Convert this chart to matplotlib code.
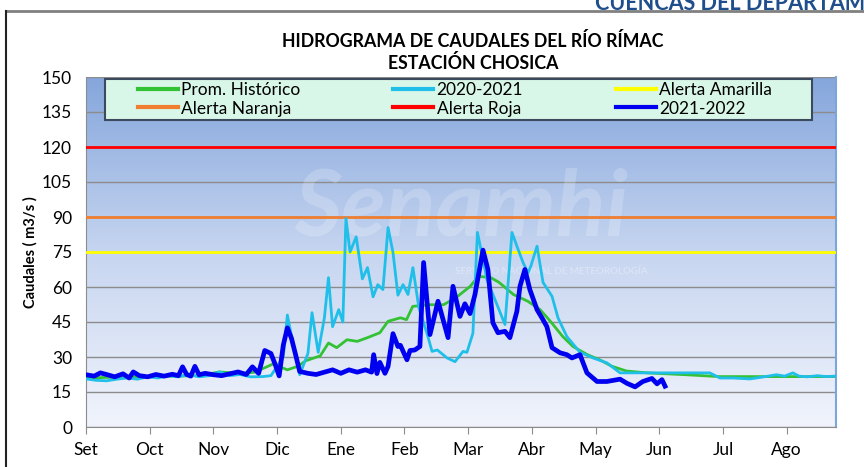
import numpy as np
import matplotlib
matplotlib.use('Agg')
import matplotlib.pyplot as plt
from matplotlib.lines import Line2D
from matplotlib.patches import Rectangle

plt.rcParams['font.family'] = ['Lato', 'DejaVu Sans']

# days counted from 1 Sep, value in m3/s
months = ['Set', 'Oct', 'Nov', 'Dic', 'Ene', 'Feb', 'Mar', 'Abr', 'May', 'Jun', 'Jul', 'Ago']
month_days = [0, 31, 62, 93, 124, 155, 186, 217, 248, 279, 310, 341]

hist_d = [0, 20, 40, 55, 65, 75, 82, 88, 91, 98, 103, 107, 114, 118, 122, 127, 132, 137, 143, 147,
          153, 156, 159, 167, 174, 180, 187, 191, 197, 201, 208, 215, 221, 226, 232, 237, 244, 250,
          256, 263, 273, 292, 308, 323, 364]
hist_v = [21.0, 21.5, 21.8, 22.0, 23.6, 22.9, 23.5, 25.8, 27.0, 24.5, 26.0, 28.4, 30.5, 36.0, 34.0,
          37.4, 36.7, 38.3, 40.4, 45.3, 46.8, 46.0, 51.7, 52.4, 52.4, 55.4, 60.3, 64.6, 64.0, 62.0,
          56.8, 53.9, 50.3, 45.3, 38.8, 34.5, 31.0, 28.8, 26.0, 24.0, 23.2, 22.4, 21.6, 21.6, 21.6]

y2021_d = [0, 5, 10, 15, 20, 25, 30, 35, 40, 45, 50, 55, 60, 65, 70, 75, 80, 86, 90, 93, 96, 98,
           101, 104, 108, 110, 113, 116, 118, 120, 123, 125, 126.5, 128.5, 131.5, 134.5, 137, 139.7,
           142, 144.5, 147, 149.4, 151.8, 154.3, 156.7, 159.1, 162, 166, 168.4, 171, 175.7, 179.6,
           183.5, 185.4, 188.3, 190.5, 192.7, 195.1, 200, 203.9, 207.3, 209.7, 212.7, 215.1, 216.5,
           219.5, 222.4, 226.8, 229.7, 234, 240.4, 246.7, 253.5, 259.9, 266, 282.7, 303.6, 308.5,
           315, 323, 330, 336, 340, 344, 347, 351, 356, 360, 364.5]
y2021_v = [20.6, 20.0, 19.8, 20.5, 21.0, 20.5, 21.5, 21.0, 22.0, 21.5, 22.5, 21.5, 22.0, 23.6, 22.0,
           22.5, 21.5, 21.6, 22.0, 26.0, 30.0, 48.0, 34.5, 22.4, 31.5, 49.0, 32.0, 46.7, 64.0, 43.0,
           50.3, 45.0, 89.4, 75.0, 81.5, 63.5, 68.3, 55.8, 61.0, 58.9, 85.5, 74.8, 56.5, 61.0, 56.8,
           68.3, 51.0, 40.0, 32.4, 33.0, 29.6, 28.0, 32.4, 32.0, 40.2, 83.4, 74.0, 63.2, 52.5, 43.9,
           83.4, 77.5, 70.5, 66.0, 69.0, 77.5, 62.0, 56.0, 46.8, 38.8, 32.0, 29.6, 27.5, 23.2, 23.2,
           23.2, 23.2, 21.0, 21.0, 20.6, 21.5, 22.4, 21.8, 23.2, 21.8, 21.5, 22.0, 21.6, 21.8]

y2022_d = [0, 4, 7, 10, 14, 18, 21, 23, 26, 30, 34, 38, 42, 45, 47, 49, 51, 53, 55, 58, 62, 66, 70,
           74, 78, 81, 84, 87, 90, 92, 94, 96, 98, 100, 102, 104, 108, 112, 116, 120, 124, 128, 132,
           136, 139, 140, 141.6, 143, 145.5, 147, 149.4, 151.8, 153, 156.2, 157.7, 160, 162.5, 164.3,
           167.4, 171.3, 176.2, 178.6, 182, 184.4, 186.9, 189.3, 193.2, 195.6, 198, 200.5, 203.9,
           206.3, 209.7, 211.2, 213.6, 216, 219.5, 222.4, 224.3, 226.8, 230.7, 234, 236.5, 240.4,
           243.8, 248.7, 253.5, 259.9, 263.3, 267.2, 271, 275.4, 277.9, 280.3, 281.8]
y2022_v = [22.4, 21.8, 23.2, 22.5, 21.5, 22.8, 21.0, 23.6, 22.0, 21.5, 22.5, 21.8, 22.6, 22.0, 25.8,
           22.5, 21.8, 26.0, 22.4, 23.0, 22.4, 22.0, 22.8, 23.6, 22.5, 25.8, 23.0, 32.8, 31.5, 27.0,
           21.9, 35.0, 42.5, 38.0, 31.0, 23.8, 23.0, 22.5, 23.5, 24.5, 23.0, 24.5, 23.5, 24.5, 23.5,
           31.0, 22.9, 27.7, 23.0, 26.0, 40.0, 34.5, 35.0, 28.8, 32.8, 33.0, 34.5, 70.5, 39.6, 53.9,
           38.3, 60.3, 47.4, 52.8, 48.6, 56.8, 75.8, 67.5, 44.7, 40.4, 41.0, 38.3, 49.6, 60.3, 67.5,
           58.9, 50.3, 46.0, 43.0, 34.0, 31.8, 31.0, 29.6, 31.0, 23.2, 19.5, 19.5, 20.5, 18.7, 17.2,
           19.5, 20.8, 18.5, 20.3, 17.5]

alert_amarilla = 75
alert_naranja = 90
alert_roja = 120

fig = plt.figure(figsize=(8.64, 4.67), dpi=100)
ax = fig.add_axes([86/864, 40/467, 750/864, 350/467])

# blue gradient background of the plot area
grad = np.linspace(0, 1, 256).reshape(-1, 1)
cmap = matplotlib.colors.LinearSegmentedColormap.from_list('bg', ['#f1f4fc', '#c6d5f0', '#85a6dc'])
ax.imshow(grad, extent=(0, 365, 0, 150), origin='lower', aspect='auto', cmap=cmap, zorder=0)

# faint watermark
ax.text(0.50, 0.62, 'Senamhi', transform=ax.transAxes, fontsize=66, fontstyle='italic',
        fontweight='bold', color='white', alpha=0.2, ha='center', va='center', zorder=1)
ax.text(0.62, 0.445, 'SERVICIO NACIONAL DE METEOROLOGÍA', transform=ax.transAxes, fontsize=7,
        fontweight='bold', color='white', alpha=0.3, ha='center', va='center', zorder=1)

ax.set_yticks(np.arange(0, 151, 15))
ax.yaxis.grid(True, color='#8c8c8c', linewidth=1, zorder=1)
ax.set_axisbelow(True)

l_am = ax.axhline(alert_amarilla, color='#ffff00', lw=2, zorder=3)
l_na = ax.axhline(alert_naranja, color='#f07e30', lw=2, zorder=3)
l_ro = ax.axhline(alert_roja, color='#ff0000', lw=2, zorder=3)
l_hi, = ax.plot(hist_d, hist_v, color='#33c233', lw=2, zorder=4)
l_20, = ax.plot(y2021_d, y2021_v, color='#1fbfea', lw=2, zorder=5)
l_21, = ax.plot(y2022_d, y2022_v, color='#0000f0', lw=3.4, zorder=6, solid_joinstyle='round')

ax.set_xlim(0, 365)
ax.set_ylim(0, 150)
ax.set_xticks(month_days)
ax.set_xticklabels(months)
ax.tick_params(axis='x', direction='out', length=5, color='#8c8c8c', labelsize=12.5, pad=6)
ax.tick_params(axis='y', length=0, labelsize=12.5, pad=10)
for s in ['left', 'bottom']:
    ax.spines[s].set_color('#8c8c8c')
ax.spines['top'].set_visible(False)
ax.spines['right'].set_color('#7aa6dc')
ax.spines['right'].set_linewidth(1.5)

ax.set_ylabel('Caudales ( m3/s )', fontsize=10.5, fontweight='bold', labelpad=3)

fig.text(473/864, 1 - 41/467, 'HIDROGRAMA DE CAUDALES DEL RÍO RÍMAC', ha='center', va='center',
         fontsize=12.8, fontweight='bold')
fig.text(473/864, 1 - 63/467, 'ESTACIÓN CHOSICA', ha='center', va='center',
         fontsize=12.8, fontweight='bold')
fig.text(595/864, 1 - 10/467, 'CUENCAS DEL DEPARTAMENTO', ha='left', va='baseline',
         fontsize=15.5, fontweight='bold', color='#1f4e8c')

# frame of the chart sheet
fig.add_artist(Line2D([6/864, 1], [1 - 11/467, 1 - 11/467], color='#808080', lw=2))
fig.add_artist(Line2D([6/864, 6/864], [0, 1 - 11/467], color='#222222', lw=1.5))

# legend box
fig.add_artist(Rectangle((105/864, 1 - 120/467), 707/864, 41/467, transform=fig.transFigure,
                         facecolor='#d9f7e8', edgecolor='#3b4a5c', lw=1.5, zorder=10))

handles = [l_hi, l_na, l_20, l_ro, l_am, l_21]
labels = ['Prom. Histórico', 'Alerta Naranja', '2020-2021', 'Alerta Roja', 'Alerta Amarilla', '2021-2022']
leg = fig.legend(handles, labels, ncol=3, mode='expand', loc='center left',
                 bbox_to_anchor=(138/864, 1 - 118/467, 634/864, 37/467), borderaxespad=0,
                 fontsize=12.5, handlelength=2.3, handletextpad=0.2, labelspacing=0.12,
                 borderpad=0.0, frameon=False)
leg.set_zorder(11)
for h in leg.get_lines():
    h.set_linewidth(3)

fig.savefig('out.png', dpi=100)
